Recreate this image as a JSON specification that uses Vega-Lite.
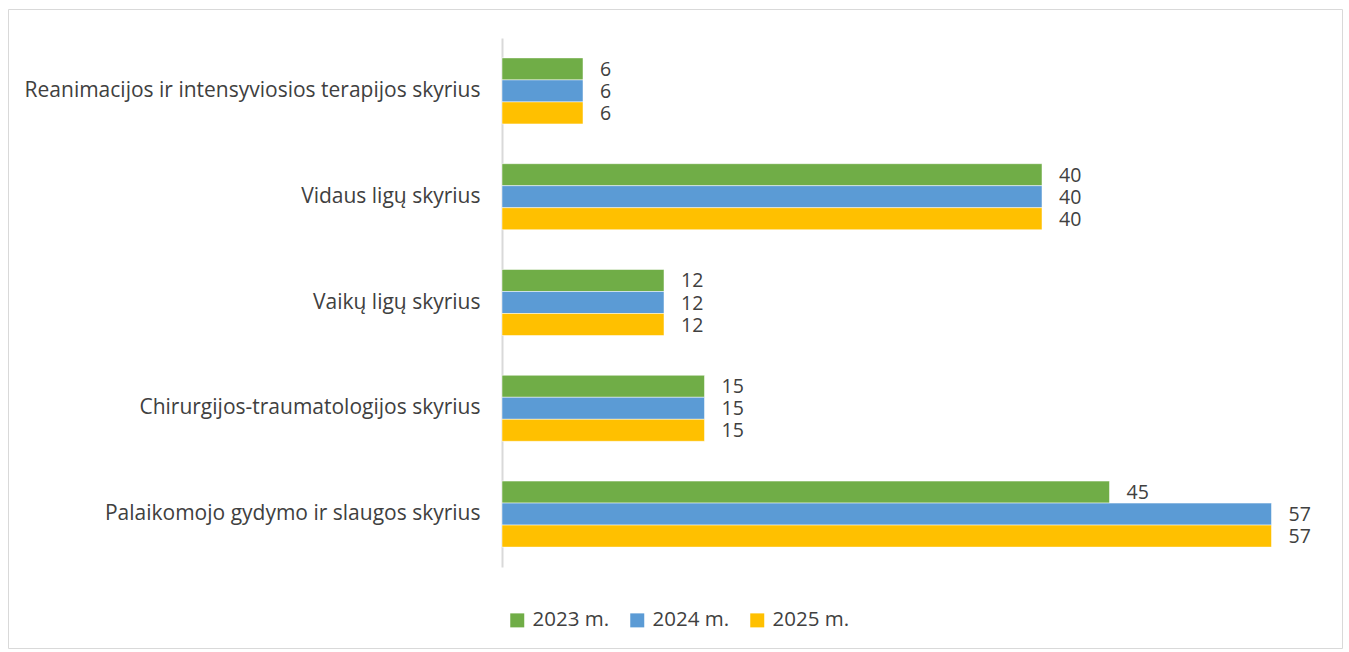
{
  "$schema": "https://vega.github.io/schema/vega-lite/v6.json",
  "width": 1334,
  "height": 639,
  "autosize": {"type": "none"},
  "padding": {"left": 8, "top": 9, "right": 7, "bottom": 4},
  "background": "white",
  "config": {
    "view": {"stroke": "#d9d9d9", "strokeWidth": 1},
    "font": "Open Sans"
  },
  "data": {
    "values": [
      {"dept": "Reanimacijos ir intensyviosios terapijos skyrius", "year": "2023 m.", "value": 6},
      {"dept": "Reanimacijos ir intensyviosios terapijos skyrius", "year": "2024 m.", "value": 6},
      {"dept": "Reanimacijos ir intensyviosios terapijos skyrius", "year": "2025 m.", "value": 6},
      {"dept": "Vidaus ligų skyrius", "year": "2023 m.", "value": 40},
      {"dept": "Vidaus ligų skyrius", "year": "2024 m.", "value": 40},
      {"dept": "Vidaus ligų skyrius", "year": "2025 m.", "value": 40},
      {"dept": "Vaikų ligų skyrius", "year": "2023 m.", "value": 12},
      {"dept": "Vaikų ligų skyrius", "year": "2024 m.", "value": 12},
      {"dept": "Vaikų ligų skyrius", "year": "2025 m.", "value": 12},
      {"dept": "Chirurgijos-traumatologijos skyrius", "year": "2023 m.", "value": 15},
      {"dept": "Chirurgijos-traumatologijos skyrius", "year": "2024 m.", "value": 15},
      {"dept": "Chirurgijos-traumatologijos skyrius", "year": "2025 m.", "value": 15},
      {"dept": "Palaikomojo gydymo ir slaugos skyrius", "year": "2023 m.", "value": 45},
      {"dept": "Palaikomojo gydymo ir slaugos skyrius", "year": "2024 m.", "value": 57},
      {"dept": "Palaikomojo gydymo ir slaugos skyrius", "year": "2025 m.", "value": 57}
    ]
  },
  "encoding": {
    "y": {
      "field": "dept",
      "type": "nominal",
      "sort": null,
      "scale": {"range": [29, 558], "paddingInner": 0.376, "paddingOuter": 0.188},
      "axis": {
        "title": null,
        "offset": -494,
        "ticks": false,
        "labelPadding": 22,
        "labelFontSize": 21,
        "labelColor": "#404040",
        "labelLimit": 600,
        "domainColor": "#d9d9d9",
        "domainWidth": 2
      }
    },
    "yOffset": {
      "field": "year",
      "type": "nominal",
      "sort": null,
      "scale": {"paddingInner": 0, "paddingOuter": 0}
    },
    "x": {
      "field": "value",
      "type": "quantitative",
      "scale": {"domain": [0, 60], "range": [494, 1304]},
      "axis": null
    }
  },
  "layer": [
    {
      "mark": {"type": "bar", "stroke": "white", "strokeWidth": 0.5},
      "encoding": {
        "color": {
          "field": "year",
          "type": "nominal",
          "sort": null,
          "scale": {"domain": ["2023 m.", "2024 m.", "2025 m."], "range": ["#70AD47", "#5B9BD5", "#FFC000"]},
          "legend": {
            "title": null,
            "orient": "none",
            "direction": "horizontal",
            "legendX": 499,
            "legendY": 601,
            "symbolType": "square",
            "symbolSize": 196,
            "symbolStrokeWidth": 0,
            "labelFontSize": 20.5,
            "labelColor": "#404040",
            "labelOffset": 5,
            "columnPadding": 17
          }
        }
      }
    },
    {
      "mark": {"type": "text", "align": "left", "dx": 17, "dy": 1, "fontSize": 19.5, "color": "#404040"},
      "encoding": {"text": {"field": "value", "type": "quantitative"}}
    }
  ]
}
